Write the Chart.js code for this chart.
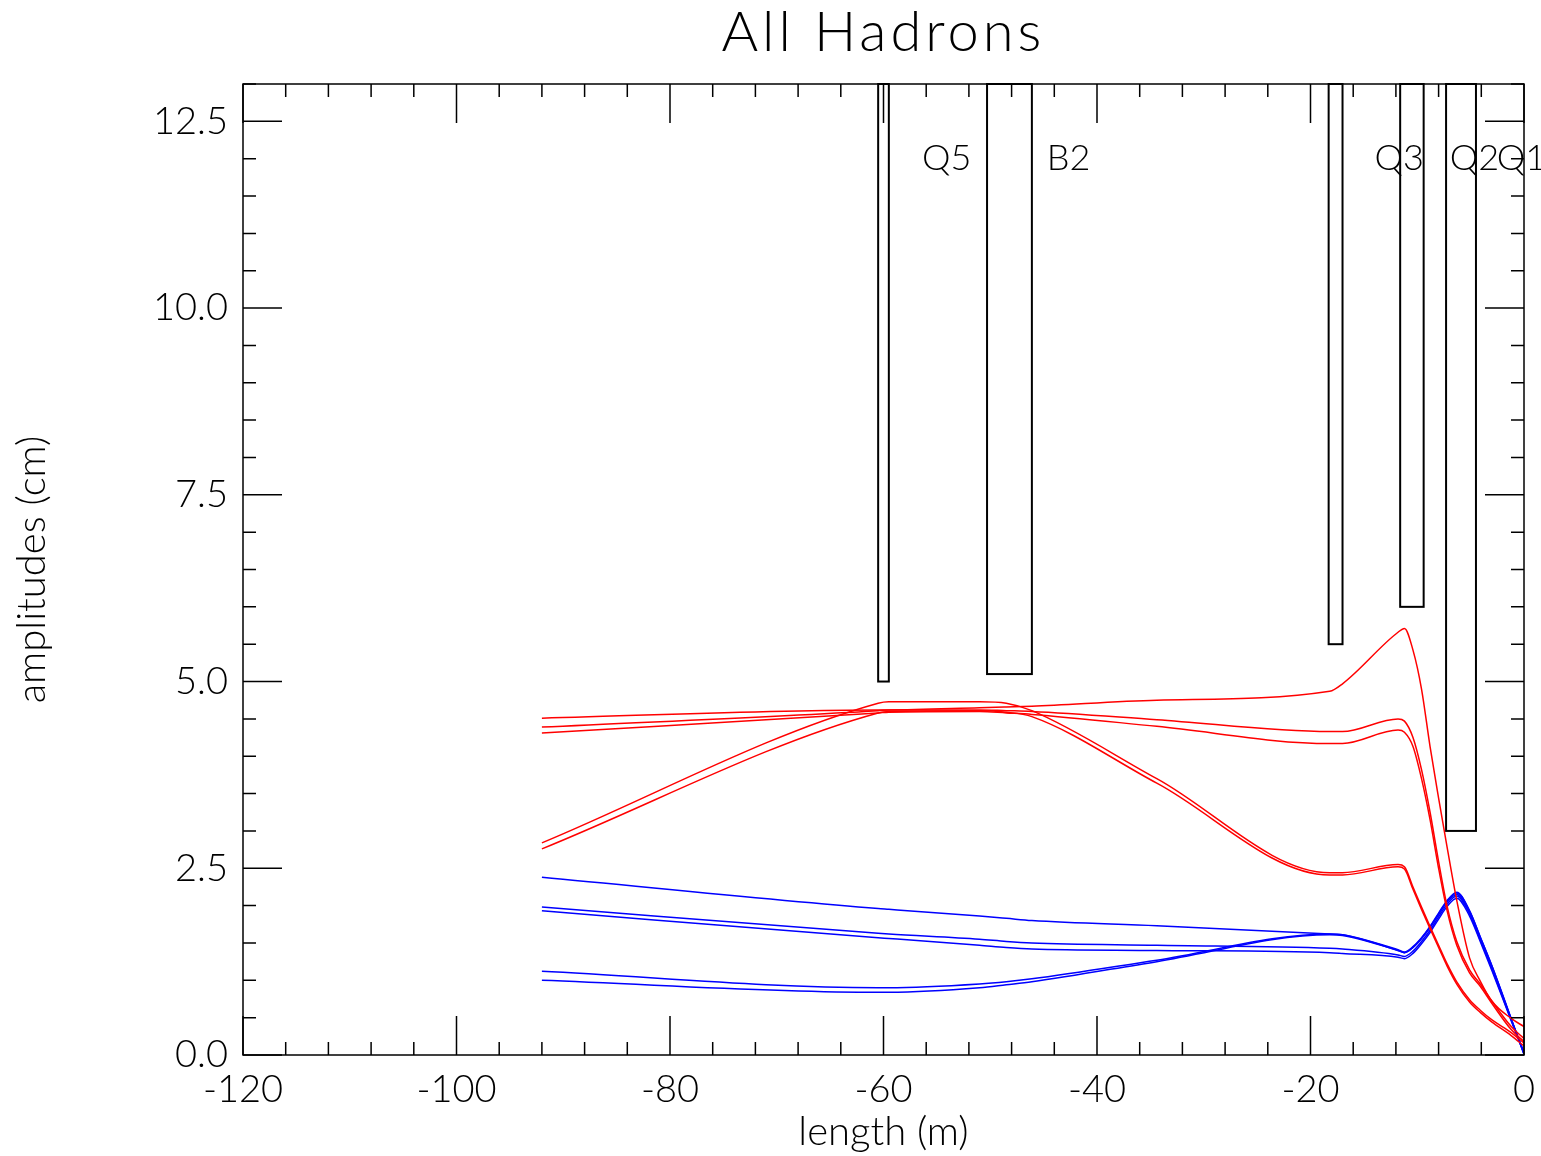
<!DOCTYPE html>
<html>
<head>
    <meta charset="UTF-8">
    <title>All Hadrons</title>
    <script src="https://cdn.jsdelivr.net/npm/chart.js"></script>
    <style>
        html, body { margin: 0; padding: 0; background: #fff; }
        #amp { display: block; }
    </style>
</head>
<body>
    <canvas id="amp" width="1541" height="1156"></canvas>

    <script>
        // positions along the beam line (m), shared by every trace
        const lengthM = [-92, -60.5, -59.5, -51, -48.5, -46.1, -34.4, -18.2, -17.0, -11.8, -11.2,
                         -10.4, -9.6, -8.8, -8.0, -7.2, -6.3, -5.1, -4.1, -3.0, -1.2, 0];

        // amplitudes (cm), red traces
        const red1 = [4.51, 4.62, 4.62, 4.65, 4.66, 4.67, 4.75, 4.87, 4.97, 5.66, 5.71,
                      5.42, 4.90, 4.13, 3.44, 2.78, 2.07, 1.30, 0.99, 0.72, 0.49, 0.38];
        const red2 = [4.39, 4.61, 4.62, 4.62, 4.61, 4.60, 4.49, 4.33, 4.33, 4.50, 4.47,
                      4.25, 3.82, 3.25, 2.59, 1.99, 1.52, 1.14, 0.95, 0.72, 0.38, 0.22];
        const red3 = [4.31, 4.58, 4.59, 4.60, 4.58, 4.56, 4.40, 4.17, 4.17, 4.35, 4.32,
                      4.13, 3.70, 3.15, 2.50, 1.93, 1.47, 1.10, 0.92, 0.69, 0.34, 0.18];
        const red4 = [2.84, 4.71, 4.73, 4.73, 4.71, 4.61, 3.70, 2.44, 2.44, 2.55, 2.52,
                      2.25, 1.98, 1.72, 1.47, 1.22, 0.98, 0.74, 0.60, 0.47, 0.30, 0.16];
        const red5 = [2.76, 4.58, 4.60, 4.61, 4.59, 4.53, 3.64, 2.41, 2.41, 2.52, 2.49,
                      2.22, 1.95, 1.69, 1.44, 1.19, 0.95, 0.71, 0.57, 0.44, 0.26, 0.12];

        // amplitudes (cm), blue traces
        const blue1 = [2.38, 1.96, 1.95, 1.86, 1.83, 1.80, 1.73, 1.62, 1.61, 1.40, 1.37,
                       1.44, 1.56, 1.71, 1.88, 2.06, 2.18, 1.93, 1.58, 1.19, 0.48, 0.02];
        const blue2 = [1.98, 1.63, 1.62, 1.55, 1.52, 1.50, 1.47, 1.43, 1.42, 1.34, 1.32,
                       1.39, 1.52, 1.67, 1.85, 2.02, 2.13, 1.89, 1.54, 1.15, 0.47, 0.03];
        const blue3 = [1.93, 1.57, 1.56, 1.47, 1.44, 1.42, 1.40, 1.37, 1.36, 1.31, 1.29,
                       1.36, 1.49, 1.64, 1.82, 1.99, 2.10, 1.86, 1.52, 1.13, 0.46, 0.03];
        const blue4 = [1.12, 0.90, 0.90, 0.95, 0.98, 1.02, 1.27, 1.62, 1.61, 1.41, 1.38,
                       1.45, 1.57, 1.72, 1.90, 2.07, 2.17, 1.93, 1.58, 1.19, 0.49, 0.01];
        const blue5 = [1.00, 0.84, 0.84, 0.90, 0.94, 0.98, 1.25, 1.61, 1.60, 1.40, 1.37,
                       1.44, 1.56, 1.71, 1.89, 2.05, 2.15, 1.91, 1.56, 1.17, 0.48, 0.01];

        // magnets: extent along the beam (m) and lower edge of the aperture box (cm)
        const magnetNames  = ['Q5', 'B2', 'Q3', 'Q2', 'Q1'];
        const magnetStart  = [-60.5, -50.3, -18.3, -11.6, -7.3];
        const magnetEnd    = [-59.5, -46.1, -17.0, -9.4, -4.5];
        const magnetBottom = [5.0, 5.1, 5.5, 6.0, 3.0];
        const magnetLabelAt = [-56.4, -44.7, -14.0, -6.95, -2.55];

        const FONT = 'Lato, "DejaVu Sans", sans-serif';

        const traces = [
            [red1, '#ff0000'], [red2, '#ff0000'], [red3, '#ff0000'], [red4, '#ff0000'], [red5, '#ff0000'],
            [blue1, '#0000ff'], [blue2, '#0000ff'], [blue3, '#0000ff'], [blue4, '#0000ff'], [blue5, '#0000ff']
        ];

        // magnet boxes, title, frame and inward ticks (PAW style)
        const beamline = {
            id: 'beamline',
            beforeDatasetsDraw(chart) {
                const { ctx, chartArea: a, scales: { x, y } } = chart;
                ctx.save();
                ctx.fillStyle = '#000';
                ctx.textBaseline = 'middle';
                ctx.textAlign = 'center';
                ctx.font = '300 56px ' + FONT;
                ctx.letterSpacing = '4px';
                ctx.fillText('All Hadrons', (a.left + a.right) / 2, 33);
                ctx.letterSpacing = '0px';

                ctx.strokeStyle = '#000';
                ctx.lineWidth = 2;
                ctx.font = '300 36px ' + FONT;
                ctx.textAlign = 'left';
                magnetStart.forEach((s, i) => {
                    const l = x.getPixelForValue(s);
                    const r = x.getPixelForValue(magnetEnd[i]);
                    const t = y.getPixelForValue(y.max);
                    const b = y.getPixelForValue(magnetBottom[i]);
                    ctx.strokeRect(l, t, r - l, b - t);
                    ctx.fillText(magnetNames[i], x.getPixelForValue(magnetLabelAt[i]), y.getPixelForValue(12));
                });
                ctx.restore();
            },
            afterDraw(chart) {
                const { ctx, chartArea: a, scales: { x, y } } = chart;
                ctx.save();
                ctx.strokeStyle = '#000';
                ctx.lineWidth = 1.5;
                ctx.strokeRect(a.left, a.top, a.right - a.left, a.bottom - a.top);
                ctx.beginPath();
                for (let i = 0; i <= 30; i++) {
                    const px = x.getPixelForValue(-120 + i * 4);
                    const len = i % 5 === 0 ? 39 : 13;
                    ctx.moveTo(px, a.bottom); ctx.lineTo(px, a.bottom - len);
                    ctx.moveTo(px, a.top); ctx.lineTo(px, a.top + len);
                }
                for (let i = 0; i <= 26; i++) {
                    const py = y.getPixelForValue(i * 0.5);
                    const len = i % 5 === 0 ? 39 : 13;
                    ctx.moveTo(a.left, py); ctx.lineTo(a.left + len, py);
                    ctx.moveTo(a.right, py); ctx.lineTo(a.right - len, py);
                }
                ctx.stroke();
                ctx.restore();
            }
        };

        new Chart(document.getElementById('amp'), {
            type: 'line',
            data: {
                datasets: traces.map(([vals, col]) => ({
                    data: lengthM.map((v, i) => ({ x: v, y: vals[i] })),
                    borderColor: col,
                    borderWidth: 1.5,
                    pointRadius: 0,
                    cubicInterpolationMode: 'monotone',
                    fill: false
                }))
            },
            options: {
                responsive: false,
                animation: false,
                devicePixelRatio: 1,
                layout: { padding: { left: 0, right: 17, top: 84, bottom: 0 } },
                plugins: {
                    legend: { display: false },
                    tooltip: { enabled: false },
                    title: { display: false }
                },
                scales: {
                    x: {
                        type: 'linear',
                        min: -120,
                        max: 0,
                        grid: { display: false, drawTicks: false },
                        border: { display: false },
                        ticks: {
                            stepSize: 20,
                            includeBounds: false,
                            maxRotation: 0,
                            autoSkip: false,
                            padding: 12,
                            color: '#000',
                            font: { family: FONT, size: 38, weight: '300' },
                            callback: v => String(v)
                        },
                        title: {
                            display: true,
                            text: 'length (m)',
                            color: '#000',
                            font: { family: FONT, size: 40, weight: '300', lineHeight: 1.2 },
                            padding: { top: 0, bottom: 0 }
                        },
                        afterFit: s => { s.height = 101; s.paddingLeft = 0; s.paddingRight = 0; }
                    },
                    y: {
                        type: 'linear',
                        min: 0,
                        max: 13,
                        grid: { display: false, drawTicks: false },
                        border: { display: false },
                        ticks: {
                            stepSize: 2.5,
                            includeBounds: false,
                            padding: 15,
                            color: '#000',
                            font: { family: FONT, size: 38, weight: '300' },
                            callback: v => v.toFixed(1)
                        },
                        title: {
                            display: true,
                            text: 'amplitudes (cm)',
                            color: '#000',
                            font: { family: FONT, size: 40, weight: '300', lineHeight: 1.2 },
                            padding: { top: 8, bottom: 0 }
                        },
                        afterFit: s => { s.width = 243; s.paddingTop = 0; s.paddingBottom = 0; }
                    }
                }
            },
            plugins: [beamline]
        });
    </script>
</body>
</html>
